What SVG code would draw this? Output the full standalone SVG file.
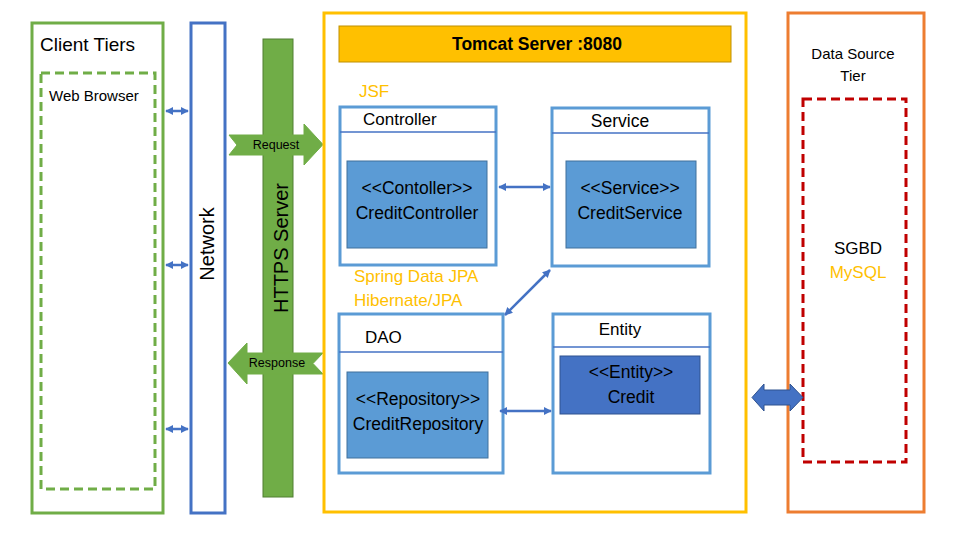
<svg xmlns="http://www.w3.org/2000/svg" width="971" height="549" viewBox="0 0 971 549">
<defs>
<style>
text{font-family:"Liberation Sans",Arial,sans-serif;fill:#000}
.box{fill:#fff;stroke:#5B9BD5;stroke-width:3}
.hdr{stroke:#4472C4;stroke-width:1.5}
.cls{fill:#5B9BD5;stroke:#41719C;stroke-width:1}
.ent{fill:#4472C4;stroke:#2F528F;stroke-width:1}
.t17{font-size:17.5px}
.orange{fill:#FFC000}
.conn{stroke:#4472C4;stroke-width:2.5;fill:none;marker-start:url(#ah);marker-end:url(#ah)}
</style>
<marker id="ah" viewBox="0 0 10 10" refX="9" refY="5" markerWidth="3.2" markerHeight="3.4" orient="auto-start-reverse" markerUnits="strokeWidth">
<path d="M0,0 L10,5 L0,10 Z" fill="#4472C4"/>
</marker>
</defs>
<rect width="971" height="549" fill="#fff"/>

<g id="client-tiers">
<rect x="32" y="23" width="131" height="490" fill="#fff" stroke="#70AD47" stroke-width="3"/>
<text x="40" y="51" style="font-size:19px">Client Tiers</text>
<rect x="41" y="73" width="114" height="416" fill="none" stroke="#70AD47" stroke-width="3" stroke-dasharray="9,5"/>
<text x="49" y="101" style="font-size:15px">Web Browser</text>
</g>

<g id="network">
<rect x="191" y="23" width="34" height="490" fill="#fff" stroke="#4472C4" stroke-width="3"/>
<text transform="translate(214,244) rotate(-90)" text-anchor="middle" style="font-size:20px">Network</text>
</g>

<g id="https-server">
<rect x="263" y="39" width="30" height="458" fill="#70AD47" stroke="#507E32" stroke-width="1"/>
<text transform="translate(288,248) rotate(-90)" text-anchor="middle" style="font-size:20px">HTTPS Server</text>
</g>

<g id="request">
<polygon points="229,135 304,135 304,124 323,144.5 304,165 304,155 229,155 237,145" fill="#70AD47" stroke="#70AD47" stroke-width="1"/>
<text x="276" y="149" text-anchor="middle" style="font-size:12.5px">Request</text>
</g>

<g id="response">
<polygon points="228,363 247,343 247,353 323,353 313,363.5 323,374 247,374 247,384" fill="#70AD47" stroke="#70AD47" stroke-width="1"/>
<text x="277" y="367" text-anchor="middle" style="font-size:12.5px">Response</text>
</g>

<g id="tomcat">
<rect x="324" y="13" width="422" height="499" fill="none" stroke="#FFC000" stroke-width="3"/>
<rect x="339" y="26" width="392" height="36" fill="#FFC000" stroke="#BF9000" stroke-width="1"/>
<text x="537" y="50" text-anchor="middle" style="font-size:17.5px;font-weight:bold">Tomcat Server :8080</text>
<text x="359" y="97" class="orange" style="font-size:17px">JSF</text>
<text x="354" y="282" class="orange" style="font-size:17px">Spring Data JPA</text>
<text x="354" y="306" class="orange" style="font-size:17px">Hibernate/JPA</text>
</g>

<g id="controller">
<rect class="box" x="340" y="107" width="156" height="158"/>
<line class="hdr" x1="340" y1="132" x2="496" y2="132"/>
<text x="363" y="125" style="font-size:17px">Controller</text>
<rect class="cls" x="347" y="161" width="140" height="87"/>
<text x="417" y="194" text-anchor="middle" class="t17">&lt;&lt;Contoller&gt;&gt;</text>
<text x="417" y="219" text-anchor="middle" class="t17">CreditController</text>
</g>

<g id="service">
<rect class="box" x="552" y="108" width="157" height="158"/>
<line class="hdr" x1="552" y1="133" x2="709" y2="133"/>
<text x="620" y="127" text-anchor="middle" style="font-size:17.5px">Service</text>
<rect class="cls" x="566" y="161" width="130" height="87"/>
<text x="630" y="194" text-anchor="middle" class="t17">&lt;&lt;Service&gt;&gt;</text>
<text x="630" y="219" text-anchor="middle" class="t17">CreditService</text>
</g>

<g id="dao">
<rect class="box" x="339" y="314" width="164" height="159"/>
<line class="hdr" x1="339" y1="352" x2="503" y2="352"/>
<text x="365" y="343" style="font-size:17px">DAO</text>
<rect class="cls" x="347" y="372" width="141" height="86"/>
<text x="418" y="405" text-anchor="middle" class="t17">&lt;&lt;Repository&gt;&gt;</text>
<text x="418" y="430" text-anchor="middle" class="t17">CreditRepository</text>
</g>

<g id="entity">
<rect class="box" x="553" y="314" width="157" height="159"/>
<line class="hdr" x1="553" y1="347" x2="710" y2="347"/>
<text x="620" y="335" text-anchor="middle" style="font-size:17px">Entity</text>
<rect class="ent" x="560" y="356" width="140" height="58"/>
<text x="631" y="378" text-anchor="middle" class="t17">&lt;&lt;Entity&gt;&gt;</text>
<text x="631" y="403" text-anchor="middle" class="t17">Credit</text>
</g>

<g id="data-source-tier">
<rect x="788" y="13" width="136" height="499" fill="#fff" stroke="#ED7D31" stroke-width="3"/>
<text x="853" y="59" text-anchor="middle" style="font-size:15px">Data Source</text>
<text x="853" y="81" text-anchor="middle" style="font-size:15px">Tier</text>
<rect x="803" y="99" width="103" height="363" fill="none" stroke="#C00000" stroke-width="3" stroke-dasharray="9,5"/>
<text x="858" y="254" text-anchor="middle" style="font-size:17px">SGBD</text>
<text x="858" y="278" text-anchor="middle" class="orange" style="font-size:17px">MySQL</text>
</g>

<g id="connectors">
<line class="conn" x1="166" y1="111" x2="188" y2="111"/>
<line class="conn" x1="166" y1="265" x2="188" y2="265"/>
<line class="conn" x1="166" y1="429" x2="188" y2="429"/>
<line class="conn" x1="499" y1="187" x2="550" y2="187"/>
<line class="conn" x1="500" y1="411" x2="551" y2="411"/>
<line class="conn" x1="505" y1="315" x2="550" y2="270"/>
<polygon points="752,397.5 764,384 764,390 790,390 790,384 803,397.5 790,411 790,405 764,405 764,411" fill="#4472C4" stroke="#2F528F" stroke-width="1"/>
</g>
</svg>
